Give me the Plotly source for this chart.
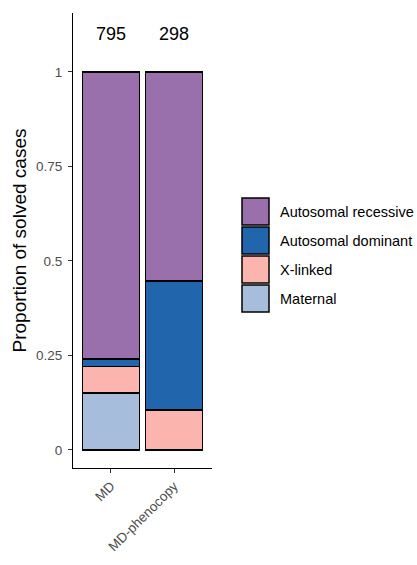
import plotly.graph_objects as go

# Proportion of solved cases by inheritance mode, per cohort
cohorts = ["MD", "MD-phenocopy"]
cohort_n = [795, 298]
modes = ["Maternal", "X-linked", "Autosomal dominant", "Autosomal recessive"]
mode_colors = {
    "Autosomal recessive": "#9970AB",
    "Autosomal dominant": "#2166AC",
    "X-linked": "#FBB4AE",
    "Maternal": "#A6BDDB",
}
maternal = [0.150, 0.0]
x_linked = [0.070, 0.106]
autosomal_dominant = [0.021, 0.341]
autosomal_recessive = [0.759, 0.553]
values = {
    "Maternal": maternal,
    "X-linked": x_linked,
    "Autosomal dominant": autosomal_dominant,
    "Autosomal recessive": autosomal_recessive,
}
legend_order = ["Autosomal recessive", "Autosomal dominant", "X-linked", "Maternal"]

FONT = "Liberation Sans, Arial, Helvetica, sans-serif"

fig = go.Figure()
for m in modes:
    fig.add_trace(go.Bar(
        x=cohorts, y=values[m], name=m, width=0.9,
        marker=dict(color=mode_colors[m], line=dict(color="black", width=1.5)),
        showlegend=False,
    ))

# Cohort sizes above the bars
for c, n in zip(cohorts, cohort_n):
    fig.add_annotation(x=c, y=1.1, text=str(n), showarrow=False,
                       font=dict(size=18, color="black", family=FONT),
                       xref="x", yref="y")

# Legend with large square keys
L, R, T, B = 73, 205, 13, 97
W, H = 417, 565
pw, ph = W - L - R, H - T - B
def px(x):
    return (x - L) / pw
def py(y):
    return (H - B - y) / ph

key_top = 198
pitch = 29
for i, m in enumerate(legend_order):
    y0 = key_top + i * pitch
    fig.add_shape(type="rect", xref="paper", yref="paper",
                  x0=px(242), x1=px(269), y0=py(y0 + 27), y1=py(y0),
                  fillcolor=mode_colors[m], line=dict(color="black", width=1.5))
    fig.add_annotation(xref="paper", yref="paper", x=px(278), y=py(y0 + 14),
                       text=m, showarrow=False, xanchor="left", yanchor="middle",
                       font=dict(size=14.5, color="black", family=FONT))

fig.update_layout(
    barmode="stack",
    width=W, height=H,
    margin=dict(l=L, r=R, t=T, b=B),
    plot_bgcolor="white", paper_bgcolor="white",
    font=dict(family=FONT),
    bargap=0.1,
)
fig.update_xaxes(
    range=[-0.6, 1.6], showline=True, linecolor="black", linewidth=1,
    ticks="outside", ticklen=4, tickcolor="#333333", tickwidth=1,
    tickangle=-45, tickfont=dict(size=13.5, color="#4D4D4D"),
    showgrid=False, zeroline=False,
)
fig.update_yaxes(
    range=[-0.048, 1.156], showline=True, linecolor="black", linewidth=1,
    ticks="outside", ticklen=4, tickcolor="#333333", tickwidth=1,
    tickvals=[0, 0.25, 0.5, 0.75, 1], ticktext=["0", "0.25", "0.5", "0.75", "1"],
    tickfont=dict(size=13.5, color="#4D4D4D"), ticklabelstandoff=3,
    title=dict(text="Proportion of solved cases", font=dict(size=19, color="black"), standoff=4),
    showgrid=False, zeroline=False,
)

fig.write_html("out.html")
